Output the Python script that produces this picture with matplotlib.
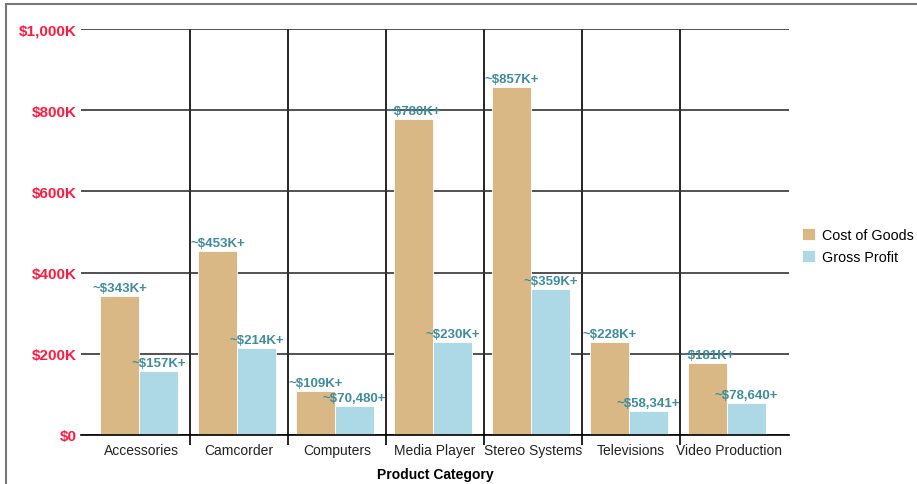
import matplotlib.pyplot as plt
import numpy as np
from matplotlib.patches import Rectangle

plt.rcParams['font.family'] = ['Liberation Sans', 'DejaVu Sans']

categories = ['Accessories', 'Camcorder', 'Computers', 'Media Player',
              'Stereo Systems', 'Televisions', 'Video Production']
cost_of_goods = [343000, 453000, 109000, 778000, 857000, 228000, 177000]
gross_profit = [157000, 214000, 70480, 230000, 359000, 58341, 78640]
cost_labels = ['~$343K+', '~$453K+', '~$109K+', '~$780K+', '~$857K+', '~$228K+', '~$181K+']
profit_labels = ['~$157K+', '~$214K+', '~$70,480+', '~$230K+', '~$359K+', '~$58,341+', '~$78,640+']
yticks = [0, 200000, 400000, 600000, 800000, 1000000]
ytick_labels = ['$0', '$200K', '$400K', '$600K', '$800K', '$1,000K']

cost_color = '#D9B886'
profit_color = '#ADD8E6'
label_color = '#3F8C9C'

fig = plt.figure(figsize=(9.17, 4.85), dpi=100)
ax = fig.add_axes([81 / 917, 1 - 436 / 485, 708 / 917, 406 / 485])

# border round the figure
fig.patches.append(Rectangle((6 / 917, -0.05), 1.0, 1 - 5 / 485 + 0.05,
                             transform=fig.transFigure, fill=False,
                             edgecolor='#777777', linewidth=1.5))

x = np.arange(len(categories)) - 0.02
w = 0.4
b1 = ax.bar(x - w / 2, cost_of_goods, w, color=cost_color, edgecolor='white',
            linewidth=0.6, label='Cost of Goods', zorder=2)
b2 = ax.bar(x + w / 2, gross_profit, w, color=profit_color, edgecolor='white',
            linewidth=0.6, label='Gross Profit', zorder=2)

for xi, v, t in zip(x, cost_of_goods, cost_labels):
    ax.text(xi - w / 2, v + 5000, t, ha='center', va='bottom', fontsize=9.5,
            fontweight='bold', color=label_color, zorder=3)
for xi, v, t in zip(x, gross_profit, profit_labels):
    ax.text(xi + w / 2, v + 5000, t, ha='center', va='bottom', fontsize=9.5,
            fontweight='bold', color=label_color, zorder=3)

pad = 11 / 98
ax.set_xlim(-0.5 - pad, len(categories) - 0.5 + pad)
ax.set_ylim(0, 1000000)

ax.set_xticks(np.arange(len(categories)))
ax.set_xticklabels(categories, fontsize=10, color='#222222')
ax.set_xticks(np.arange(len(categories) - 1) + 0.5, minor=True)
ax.tick_params(axis='x', which='major', length=0, pad=6)
ax.tick_params(axis='x', which='minor', length=7, width=1.2, color='black')

ax.set_yticks(yticks)
ax.set_yticklabels(ytick_labels, fontsize=11, fontweight='bold', color='#FF1A40')
ax.tick_params(axis='y', length=0, pad=3)

ax.grid(axis='y', which='major', color='#333333', linewidth=1.2, zorder=0)
ax.grid(axis='x', which='minor', color='black', linewidth=1.2, zorder=0)
ax.set_axisbelow(True)

for s in ['top', 'right', 'left']:
    ax.spines[s].set_visible(False)
ax.spines['bottom'].set_linewidth(1.2)

ax.set_xlabel('Product Category', fontsize=10, fontweight='bold', labelpad=7)

fig.legend(handles=[b1, b2], loc='center left', bbox_to_anchor=(789 / 917, 1 - 247 / 485),
           frameon=False, fontsize=10.3, handlelength=0.9, handleheight=0.9,
           handletextpad=0.5, labelspacing=0.6)

plt.savefig('out.png', dpi=100)
